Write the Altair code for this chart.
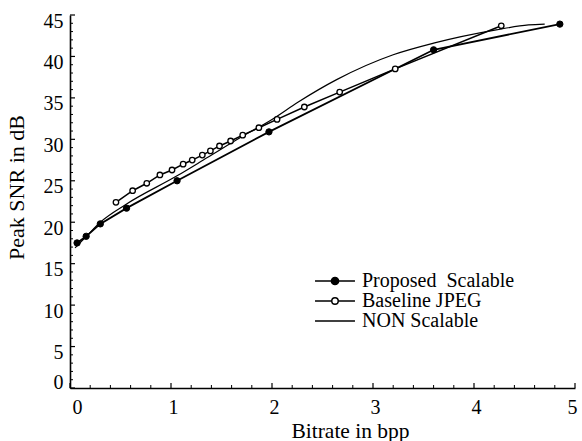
import altair as alt
import pandas as pd

# ---- data ----
series_names = ["Proposed\u00a0 Scalable", "Baseline JPEG", "NON Scalable"]

prop_x = [0.07, 0.16, 0.30, 0.56, 1.06, 1.97, 3.60, 4.85]
prop_y = [17.5, 18.3, 19.8, 21.7, 25.0, 30.9, 40.8, 43.9]

jpeg_x = [0.455, 0.62, 0.76, 0.89, 1.01, 1.12, 1.21, 1.31, 1.39, 1.48, 1.59,
          1.71, 1.87, 2.05, 2.32, 2.67, 3.22, 4.27]
jpeg_y = [22.4, 23.8, 24.7, 25.7, 26.3, 27.0, 27.5, 28.1, 28.6, 29.2, 29.8,
          30.5, 31.4, 32.4, 33.9, 35.7, 38.5, 43.7]

ns_x = [0.05, 0.17, 0.30, 0.56, 1.06, 1.36, 1.70, 2.00, 2.26, 2.64, 3.20,
        3.60, 4.22, 4.54, 4.70]
ns_y = [16.9, 18.4, 20.0, 22.2, 25.6, 27.8, 30.3, 32.4, 34.5, 37.2, 40.2,
        41.6, 43.2, 43.8, 43.9]

x_major = [0, 1, 2, 3, 4, 5]
y_major = [0, 5, 10, 15, 20, 25, 30, 35, 40, 45]
x_minor = [i / 5 for i in range(1, 25) if i % 5]
y_minor = [i for i in range(1, 45) if i % 5]

# ---- tables ----
def frame(name, xs, ys):
    return pd.DataFrame({"series": name, "bpp": xs, "psnr": ys, "order": range(len(xs))})

df_prop = frame(series_names[0], prop_x, prop_y)
df_jpeg = frame(series_names[1], jpeg_x, jpeg_y)
df_ns = frame(series_names[2], ns_x, ns_y)
df_leg = pd.DataFrame({"series": series_names})

W, H = 505, 373
FONT = "Liberation Serif"

xs = alt.Scale(domain=[0, 5], nice=False, zero=False)
ys = alt.Scale(domain=[0, 45], nice=False, zero=False)

x_axis = alt.Axis(values=x_major, format="d", tickSize=0, grid=False,
                  labelFont=FONT, labelFontSize=20, labelPadding=9, labelColor="black",
                  labelOffset=2,
                  domainColor="black", domainWidth=1.6,
                  title="Bitrate in bpp", titleFont=FONT, titleFontSize=21.5,
                  titleFontWeight="normal", titleColor="black", titlePadding=3,
                  titleX=280)
y_axis = alt.Axis(values=y_major, format="d", tickSize=0, grid=False,
                  labelFont=FONT, labelFontSize=20, labelPadding=7, labelColor="black",
                  labelOffset={"condition": {"test": "datum.value === 0", "value": -6}, "value": 6},
                  domainColor="black", domainWidth=1.6,
                  title="Peak SNR in dB", titleFont=FONT, titleFontSize=22,
                  titleFontWeight="normal", titleColor="black", titlePadding=15,
                  titleY=172)

def X(field):
    return alt.X(field, scale=xs, axis=x_axis)

def Y(field):
    return alt.Y(field, scale=ys, axis=y_axis)

line_prop = alt.Chart(df_prop).mark_line(color="black", strokeWidth=1.8).encode(
    x=X("bpp:Q"), y=Y("psnr:Q"), order="order:Q")
line_jpeg = alt.Chart(df_jpeg).mark_line(color="black", strokeWidth=1.5).encode(
    x=X("bpp:Q"), y=Y("psnr:Q"), order="order:Q")
line_ns = alt.Chart(df_ns).mark_line(color="black", strokeWidth=1.2, interpolate="monotone").encode(
    x=X("bpp:Q"), y=Y("psnr:Q"), order="order:Q")

pts_prop = alt.Chart(df_prop).mark_point(filled=True, fill="black", stroke="black",
                                         strokeWidth=1, size=40, opacity=1).encode(
    x=X("bpp:Q"), y=Y("psnr:Q"))
pts_jpeg = alt.Chart(df_jpeg).mark_point(filled=True, fill="white", stroke="black",
                                         strokeWidth=1.3, size=30, opacity=1).encode(
    x=X("bpp:Q"), y=Y("psnr:Q"))

xt = alt.Chart(pd.DataFrame({"t": x_minor})).mark_rule(color="black", strokeWidth=1).encode(
    x=X("t:Q"), y=alt.value(H), y2=alt.value(H - 3))
xT = alt.Chart(pd.DataFrame({"t": x_major})).mark_rule(color="black", strokeWidth=1.2).encode(
    x=X("t:Q"), y=alt.value(H), y2=alt.value(H - 5))
yt = alt.Chart(pd.DataFrame({"t": y_minor})).mark_rule(color="black", strokeWidth=1).encode(
    y=Y("t:Q"), x=alt.value(0), x2=alt.value(3))
yT = alt.Chart(pd.DataFrame({"t": y_major})).mark_rule(color="black", strokeWidth=1.2).encode(
    y=Y("t:Q"), x=alt.value(0), x2=alt.value(5))

P_FILLED = "M-2.35,0H-0.42M0.42,0H2.35M-0.42,0A0.42,0.42,0,1,1,0.42,0A0.42,0.42,0,1,1,-0.42,0Z"
P_OPEN = "M-2.35,0H-0.38M0.38,0H2.35M-0.38,0A0.38,0.38,0,1,1,0.38,0A0.38,0.38,0,1,1,-0.38,0Z"
P_LINE = "M-2.35,0H2.35"

leg = alt.Legend(orient="none", legendX=255, legendY=256, title=None, padding=0,
                 labelFont=FONT, labelFontSize=20, labelColor="black", labelOffset=17,
                 symbolSize=289, symbolOpacity=1, symbolFillColor="white",
                 symbolStrokeColor="black", rowPadding=-1.5)

legend_layer = alt.Chart(df_leg).mark_point(filled=True, opacity=0, stroke="black").encode(
    shape=alt.Shape("series:N", scale=alt.Scale(domain=series_names, range=[P_FILLED, P_OPEN, P_LINE]),
                    legend=leg),
    fill=alt.Fill("series:N", scale=alt.Scale(domain=series_names, range=["black", "white", "white"]),
                  legend=leg),
    strokeWidth=alt.StrokeWidth("series:N", scale=alt.Scale(domain=series_names, range=[1.6, 1.3, 1.0]),
                                legend=leg),
)

chart = alt.layer(line_ns, line_jpeg, line_prop, pts_jpeg, pts_prop, xt, xT, yt, yT, legend_layer).properties(
    width=W, height=H,
    padding={"left": 70, "top": 15, "right": 7, "bottom": 53},
    autosize=alt.AutoSizeParams(type="none"),
    background="white",
).configure_view(stroke=None)

chart.save("out.html", embed_options={"renderer": "svg", "actions": False})
